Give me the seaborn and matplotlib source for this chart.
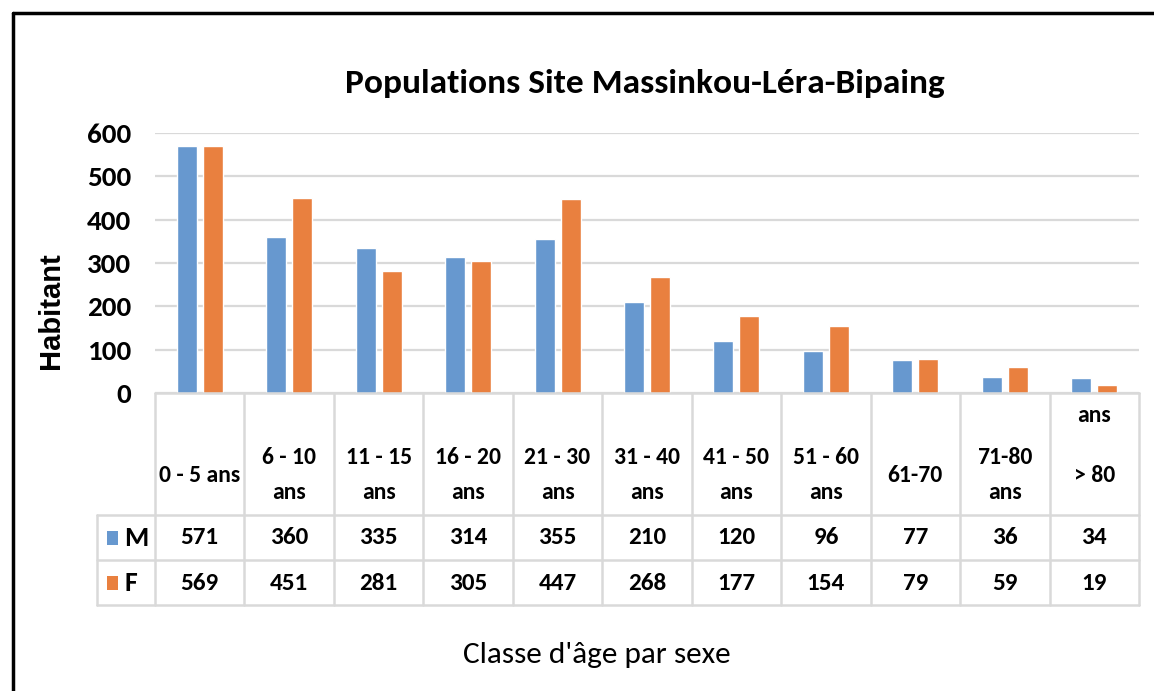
import pandas as pd
import matplotlib.pyplot as plt
import matplotlib.transforms as mtransforms
from matplotlib.patches import Rectangle
import seaborn as sns

# --- Données ---
classes = ["0 - 5 ans", "6 - 10 ans", "11 - 15 ans", "16 - 20 ans", "21 - 30 ans",
           "31 - 40 ans", "41 - 50 ans", "51 - 60 ans", "61-70", "71-80 ans", "> 80 ans"]
entetes = ["0 - 5 ans", "6 - 10\nans", "11 - 15\nans", "16 - 20\nans", "21 - 30\nans",
           "31 - 40\nans", "41 - 50\nans", "51 - 60\nans", "61-70", "71-80\nans", "> 80"]
notes_haut = ["", "", "", "", "", "", "", "", "", "", "ans"]
masculin = [571, 360, 335, 314, 355, 210, 120, 96, 77, 36, 34]
feminin = [569, 451, 281, 305, 447, 268, 177, 154, 79, 59, 19]
sexes = ["M", "F"]
couleurs = ["#6798cf", "#e9803f"]
yticks = [0, 100, 200, 300, 400, 500, 600]

df = pd.DataFrame({
    "classe": classes * 2,
    "sexe": ["M"] * len(classes) + ["F"] * len(classes),
    "habitants": masculin + feminin,
})

sns.set_style("white")
plt.rcParams['font.family'] = ['Carlito', 'Liberation Sans', 'DejaVu Sans']
plt.rcParams['text.color'] = 'black'
plt.rcParams['ytick.color'] = 'black'

W, H = 1154, 691
fig = plt.figure(figsize=(W / 100, H / 100), dpi=100)


def fx(px):
    return px / W


def fy(px):
    return 1 - px / H


ax = fig.add_axes([fx(155), fy(393), fx(1139) - fx(155), fy(133) - fy(393)])

sns.barplot(data=df, x="classe", y="habitants", hue="sexe", order=classes,
            hue_order=sexes, palette=couleurs, width=0.58, gap=0.23,
            saturation=1, legend=False, ax=ax)

ax.set_xlim(-0.5, len(classes) - 0.5)
ax.set_ylim(0, 600)
ax.set_yticks(yticks)
ax.set_yticklabels([str(v) for v in yticks], fontsize=21, fontweight='bold')
ax.tick_params(axis='y', length=0, pad=17)
ax.set_xticks([])
ax.set_xlabel("")
ax.set_ylabel("")
ax.grid(axis='y', color='#d9d9d9', linewidth=1.6)
ax.set_axisbelow(True)
for s in ax.spines.values():
    s.set_visible(False)

# --- Tableau de données sous le graphique ---
gris = '#d9d9d9'
trans = mtransforms.blended_transform_factory(ax.transData, fig.transFigure)
n = len(classes)
for i in range(n + 1):
    ax.plot([i - 0.5, i - 0.5], [fy(393), fy(605)], color=gris, lw=1.8,
            transform=trans, clip_on=False)
ax.plot([-0.5, n - 0.5], [fy(393), fy(393)], color=gris, lw=1.8,
        transform=trans, clip_on=False)
for ypx in [515, 560, 605]:
    fig.add_artist(plt.Line2D([fx(97), fx(1139)], [fy(ypx), fy(ypx)],
                              color=gris, lw=1.8))
fig.add_artist(plt.Line2D([fx(97), fx(97)], [fy(515), fy(605)], color=gris, lw=1.8))

for i in range(n):
    ax.text(i, fy(475), entetes[i], transform=trans, ha='center', va='center',
            fontsize=17, fontweight='bold', linespacing=1.85)
    if notes_haut[i]:
        ax.text(i, fy(415), notes_haut[i], transform=trans, ha='center',
                va='center', fontsize=17, fontweight='bold')
    ax.text(i, fy(538), str(masculin[i]), transform=trans, ha='center',
            va='center', fontsize=18, fontweight='bold')
    ax.text(i, fy(583), str(feminin[i]), transform=trans, ha='center',
            va='center', fontsize=18, fontweight='bold')

for k, (lab, col, ypx) in enumerate(zip(sexes, couleurs, [538, 583])):
    fig.add_artist(Rectangle((fx(107), fy(ypx + 7)), fx(11), 14 / H,
                             color=col, lw=0))
    fig.text(fx(124), fy(ypx), lab, ha='left', va='center', fontsize=20,
             fontweight='bold')

# --- Titres ---
fig.text(fx(645), fy(84), "Populations Site Massinkou-Léra-Bipaing",
         ha='center', va='center', fontsize=25.5, fontweight='bold')
fig.text(fx(597), fy(655), "Classe d'âge par sexe", ha='center', va='center',
         fontsize=22.5)
fig.text(fx(51), fy(311), "Habitant", rotation=90, ha='center', va='center',
         fontsize=21, fontweight='bold',
         family=['Liberation Sans', 'DejaVu Sans'])

# --- Cadre ---
fig.add_artist(plt.Line2D([fx(13), fx(13)], [fy(13), 0], color='black', lw=2.5))
fig.add_artist(plt.Line2D([fx(13), 1], [fy(13), fy(13)], color='black', lw=2.5))

fig.savefig("out.png", dpi=100)
